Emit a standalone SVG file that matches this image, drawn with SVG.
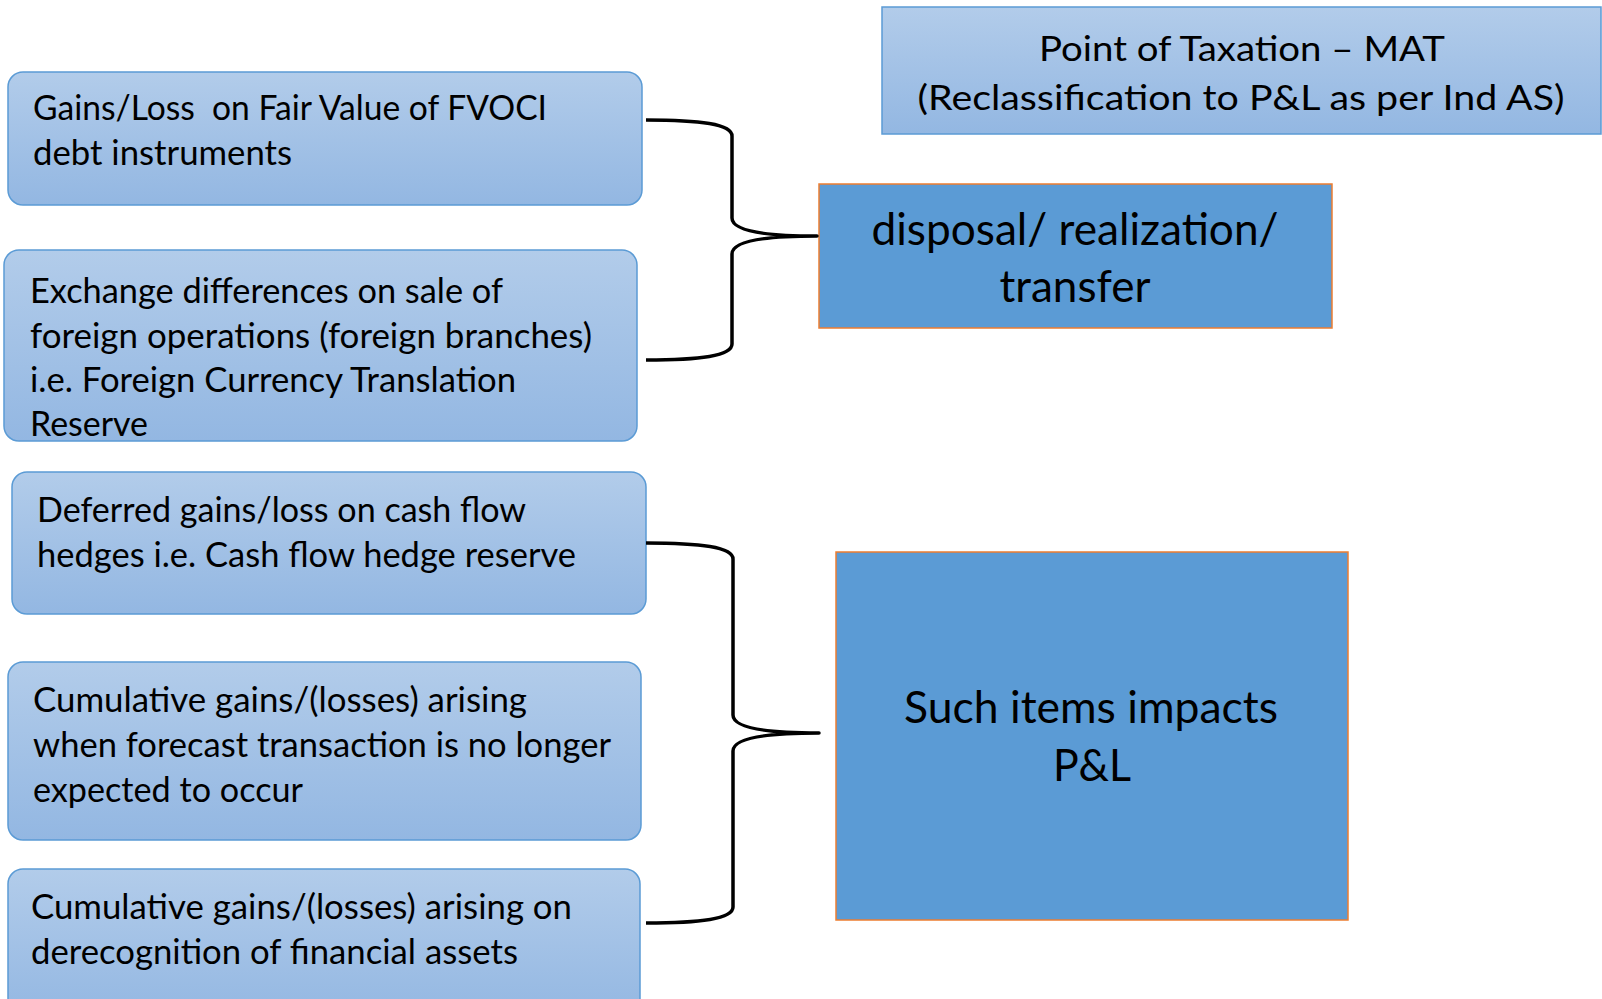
<svg xmlns="http://www.w3.org/2000/svg" width="1602" height="999" viewBox="0 0 1602 999">
  <defs>
    <linearGradient id="soft" x1="0" y1="0" x2="0" y2="1">
      <stop offset="0" stop-color="#B2CCEA"/>
      <stop offset="1" stop-color="#93B7E2"/>
    </linearGradient>
    <style>
      .item { fill: url(#soft); stroke: #5B9BD5; stroke-width: 1.5; }
      .head { fill: url(#soft); stroke: #5B9BD5; stroke-width: 1.5; }
      .result { fill: #5B9BD5; stroke: #ED7D31; stroke-width: 1.5; }
      .txt { font-family: Lato, "Open Sans", sans-serif; font-size: 35px; fill: #000; white-space: pre; }
      .big { font-family: Lato, "Open Sans", sans-serif; font-size: 45px; fill: #000; text-anchor: middle; }
      .mid { text-anchor: middle; }
      .brace { fill: none; stroke: #000; stroke-width: 3.5; stroke-linejoin: round; }
    </style>
  </defs>
  <rect width="1602" height="999" fill="#FFFFFF"/>

  <!-- heading -->
  <g id="heading">
    <rect class="head" x="882" y="7" width="719" height="127"/>
    <text class="txt mid" x="1242" y="61" textLength="406" lengthAdjust="spacingAndGlyphs">Point of Taxation – MAT</text>
    <text class="txt mid" x="1241" y="110" textLength="647" lengthAdjust="spacingAndGlyphs">(Reclassification to P&amp;L as per Ind AS)</text>
  </g>

  <!-- left-hand items -->
  <g id="item-fvoci">
    <rect class="item" x="8" y="72" width="634" height="133" rx="15"/>
    <text class="txt" x="33" y="120" textLength="514" lengthAdjust="spacingAndGlyphs" xml:space="preserve">Gains/Loss  on Fair Value of FVOCI</text>
    <text class="txt" x="33" y="165" textLength="259" lengthAdjust="spacingAndGlyphs">debt instruments</text>
  </g>

  <g id="item-fctr">
    <rect class="item" x="4" y="250" width="633" height="191" rx="15"/>
    <text class="txt" x="30" y="303" textLength="473" lengthAdjust="spacingAndGlyphs">Exchange differences on sale of</text>
    <text class="txt" x="30" y="348" textLength="562" lengthAdjust="spacingAndGlyphs">foreign operations (foreign branches)</text>
    <text class="txt" x="30" y="392" textLength="486" lengthAdjust="spacingAndGlyphs">i.e. Foreign Currency Translation</text>
    <text class="txt" x="30" y="436" textLength="118" lengthAdjust="spacingAndGlyphs">Reserve</text>
  </g>

  <g id="item-hedge">
    <rect class="item" x="12" y="472" width="634" height="142" rx="15"/>
    <text class="txt" x="37" y="522" textLength="489" lengthAdjust="spacingAndGlyphs">Deferred gains/loss on cash flow</text>
    <text class="txt" x="37" y="567" textLength="539" lengthAdjust="spacingAndGlyphs">hedges i.e. Cash flow hedge reserve</text>
  </g>

  <g id="item-forecast">
    <rect class="item" x="8" y="662" width="633" height="178" rx="15"/>
    <text class="txt" x="33" y="712" textLength="494" lengthAdjust="spacingAndGlyphs">Cumulative gains/(losses) arising</text>
    <text class="txt" x="33" y="757" textLength="578" lengthAdjust="spacingAndGlyphs">when forecast transaction is no longer</text>
    <text class="txt" x="33" y="802" textLength="270" lengthAdjust="spacingAndGlyphs">expected to occur</text>
  </g>

  <g id="item-derecognition">
    <rect class="item" x="8" y="869" width="632" height="150" rx="15"/>
    <text class="txt" x="31" y="919" textLength="541" lengthAdjust="spacingAndGlyphs">Cumulative gains/(losses) arising on</text>
    <text class="txt" x="31" y="964" textLength="487" lengthAdjust="spacingAndGlyphs">derecognition of financial assets</text>
  </g>

  <!-- outcomes -->
  <g id="outcome-disposal">
    <rect class="result" x="819" y="184" width="513" height="144"/>
    <text class="big" x="1075" y="245" textLength="407" lengthAdjust="spacingAndGlyphs">disposal/ realization/</text>
    <text class="big" x="1075" y="302" textLength="151" lengthAdjust="spacingAndGlyphs">transfer</text>
  </g>

  <g id="outcome-pl">
    <rect class="result" x="836" y="552" width="512" height="368"/>
    <text class="big" x="1091" y="723" textLength="374" lengthAdjust="spacingAndGlyphs">Such items impacts</text>
    <text class="big" x="1092" y="781" textLength="78" lengthAdjust="spacingAndGlyphs">P&amp;L</text>
  </g>

  <!-- curly braces grouping the items -->
  <g id="connectors">
    <path class="brace" d="M646,120 C700,120 732,124 732,136 L732,218 C732,230 760,236 817,236 C760,236 732,242 732,254 L732,344 C732,356 700,360 646,360"/>
    <path class="brace" d="M646,543 C700,543 733,547 733,559 L733,715 C733,727 761,733 819,733 C761,733 733,739 733,751 L733,907 C733,919 700,923 646,923"/>
  </g>
</svg>
